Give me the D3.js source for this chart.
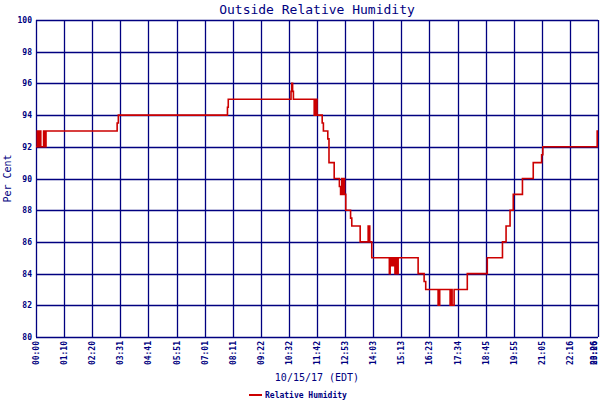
<!DOCTYPE html>
<html lang="en">
<head>
    <meta charset="UTF-8">
    <title>Outside Relative Humidity</title>
    <script src="https://d3js.org/d3.v7.min.js"></script>
    <style>
        body { margin: 0; background: #ffffff; }
        svg { display: block; }
        .navy { fill: #000080; font-family: "DejaVu Sans Mono", monospace; }
        .tick-lbl { font-size: 8px; font-weight: bold; }
    </style>
</head>
<body>
    <div id="chart"></div>
    <script>
        // minutes after midnight 10/15/17 where the reading changes, and the reading from then on
        const changeMinutes = [0, 3, 6, 8, 12, 19, 22, 25, 203, 206, 479, 481, 638, 640, 642, 644,
            696, 698, 700, 701, 703, 716, 719, 730, 733, 746, 759, 762, 765, 767, 770, 772, 775,
            787, 790, 811, 831, 835, 840, 884, 886, 890, 891, 893, 895, 898, 901, 903, 906,
            956, 971, 975, 1006, 1010, 1036, 1038, 1041, 1046, 1079, 1129, 1167, 1176, 1186,
            1194, 1217, 1244, 1265, 1268, 1404, 1406];
        const humidity = [92, 93, 92, 93, 92, 93, 92, 93, 93.5, 94, 94.5, 95, 95.5, 96, 95.5, 95,
            94, 95, 94, 95, 94, 93.5, 93, 92.5, 91, 90, 89.5, 89, 90, 89, 90, 89, 88,
            87.5, 87, 86, 87, 86, 85, 84, 85, 84.5, 85, 84.5, 85, 84, 85, 84, 85,
            84, 83.5, 83, 82, 83, 82, 83, 82, 83, 84, 85, 86, 87, 88,
            89, 90, 91, 91.5, 92, 93, 93];

        const timeLabels = ["00:00", "01:10", "02:20", "03:31", "04:41", "05:51", "07:01", "08:11",
            "09:22", "10:32", "11:42", "12:53", "14:03", "15:13", "16:23", "17:34", "18:45",
            "19:55", "21:05", "22:16", "23:26"];
        const extraLastLabel = "00:06";
        const yTicks = [80, 82, 84, 86, 88, 90, 92, 94, 96, 98, 100];

        const W = 600, H = 400;
        const margin = { top: 20, right: 2, bottom: 63, left: 36 };
        const width = W - margin.left - margin.right;
        const height = H - margin.top - margin.bottom;
        const navy = "#000080";

        const svg = d3.select("#chart").append("svg")
            .attr("width", W)
            .attr("height", H);

        const g = svg.append("g")
            .attr("transform", `translate(${margin.left},${margin.top})`);

        const endMinute = changeMinutes[changeMinutes.length - 1];
        const x = d3.scaleLinear().domain([0, endMinute]).range([0, width]);
        const y = d3.scaleLinear().domain([80, 100]).range([height, 0]);
        const tickPos = timeLabels.map((_, i) => i * endMinute / (timeLabels.length - 1));

        // grid
        g.append("g")
            .selectAll("line")
            .data(tickPos)
            .join("line")
            .attr("x1", d => Math.round(x(d)) + 0.5)
            .attr("x2", d => Math.round(x(d)) + 0.5)
            .attr("y1", 0)
            .attr("y2", height)
            .attr("stroke", navy)
            .attr("stroke-width", 1.3);

        g.append("g")
            .selectAll("line")
            .data(yTicks)
            .join("line")
            .attr("x1", 0)
            .attr("x2", width)
            .attr("y1", d => Math.round(y(d)) + 0.5)
            .attr("y2", d => Math.round(y(d)) + 0.5)
            .attr("stroke", navy)
            .attr("stroke-width", 1.3);

        // y tick labels
        g.append("g")
            .selectAll("text")
            .data(yTicks)
            .join("text")
            .attr("class", "navy tick-lbl")
            .attr("x", -4)
            .attr("y", d => y(d) + 3)
            .attr("text-anchor", "end")
            .text(d => d);

        // x tick labels, rotated (last ones pulled in so they stay on the page)
        const xLabels = timeLabels.map((t, i) => ({ t: t, m: tickPos[i] }));
        xLabels.push({ t: extraLastLabel, m: endMinute });
        g.append("g")
            .selectAll("text")
            .data(xLabels)
            .join("text")
            .attr("class", "navy tick-lbl")
            .attr("transform", d => `translate(${Math.min(x(d.m) + 3, width - 1)},${height + 4}) rotate(-90)`)
            .attr("text-anchor", "end")
            .text(d => d.t);

        // humidity line
        const pts = changeMinutes.map((m, i) => ({ m: m, v: humidity[i] }));
        g.append("path")
            .datum(pts)
            .attr("fill", "none")
            .attr("stroke", "#cc0000")
            .attr("stroke-width", 1.6)
            .attr("d", d3.line()
                .x(d => x(d.m))
                .y(d => y(d.v))
                .curve(d3.curveStepAfter));

        // titles
        svg.append("text")
            .attr("class", "navy")
            .attr("x", margin.left + width / 2)
            .attr("y", 14)
            .attr("text-anchor", "middle")
            .style("font-size", "13px")
            .text("Outside Relative Humidity");

        svg.append("text")
            .attr("class", "navy")
            .attr("transform", `translate(11,${margin.top + height / 2}) rotate(-90)`)
            .attr("text-anchor", "middle")
            .style("font-size", "10px")
            .text("Per Cent");

        svg.append("text")
            .attr("class", "navy")
            .attr("x", margin.left + width / 2)
            .attr("y", 381)
            .attr("text-anchor", "middle")
            .style("font-size", "10px")
            .text("10/15/17 (EDT)");

        // legend
        const legend = svg.append("g").attr("transform", "translate(249,395)");
        legend.append("line")
            .attr("x1", 0).attr("x2", 13)
            .attr("y1", 0).attr("y2", 0)
            .attr("stroke", "#cc0000")
            .attr("stroke-width", 2);
        legend.append("text")
            .attr("class", "navy")
            .attr("x", 16)
            .attr("y", 3)
            .style("font-size", "8px")
            .style("font-weight", "bold")
            .text("Relative Humidity");
    </script>
</body>
</html>
